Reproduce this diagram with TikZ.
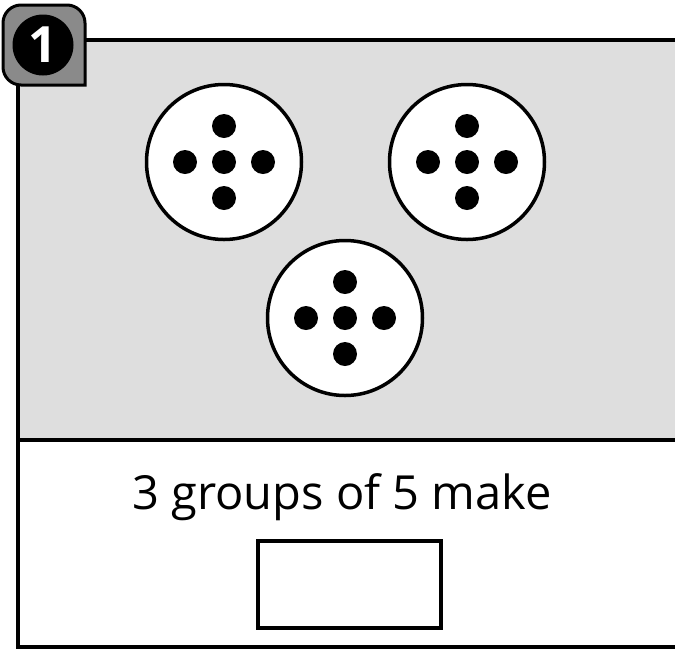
\documentclass[tikz,border=0pt]{standalone}
\usepackage{fontspec}
\setmainfont{Open Sans}
\usetikzlibrary{positioning}
\definecolor{panelgray}{HTML}{DEDEDE}
\definecolor{badgegray}{HTML}{8A8A8A}
\tikzset{
  group/.style={draw, circle, fill=white, line width=3.5pt, minimum size=155pt, inner sep=0pt},
  dot/.style={circle, fill=black, minimum size=24pt, inner sep=0pt, outer sep=0pt}
}
\begin{document}
\begin{tikzpicture}[x=1pt,y=-1pt]
\useasboundingbox (0,0) rectangle (675,649);
\fill[panelgray] (18,40) rectangle (675,440);
\path[draw,line width=4pt] (675,40) -- (18,40) -- (18,647) -- (675,647);
\path[draw,line width=4pt] (18,440) -- (675,440);

\node[group] (g1) at (224,162) {};
\node[group] (g2) at (467,162) {};
\node[group] (g3) at (345,318) {};

\foreach \g in {g1,g2,g3} {
  \node[dot] (\g c) at (\g) {};
  \node[dot, above=12pt of \g c] (\g t) {};
  \node[dot, below=12pt of \g c] (\g b) {};
  \node[dot, left=15pt of \g c] (\g l) {};
  \node[dot, right=15pt of \g c] (\g r) {};
}

\node[font=\fontsize{47}{56}\selectfont, anchor=base] (caption) at (342,509) {3 groups of 5 make};
\node[draw, line width=4pt, minimum width=183pt, minimum height=87pt] (answer) at (349.5,584.5) {};

\path[draw,line width=3pt,fill=badgegray] (85,85) [rounded corners=18pt] -- (3,85) -- (3,5) -- (85,5) [sharp corners] -- cycle;
\node[circle, fill=black, minimum size=61pt, inner sep=0pt] (badge) at (43,45) {};
\node[text=white, font=\fontsize{50}{50}\selectfont\bfseries] at (badge) {1};
\end{tikzpicture}
\end{document}
